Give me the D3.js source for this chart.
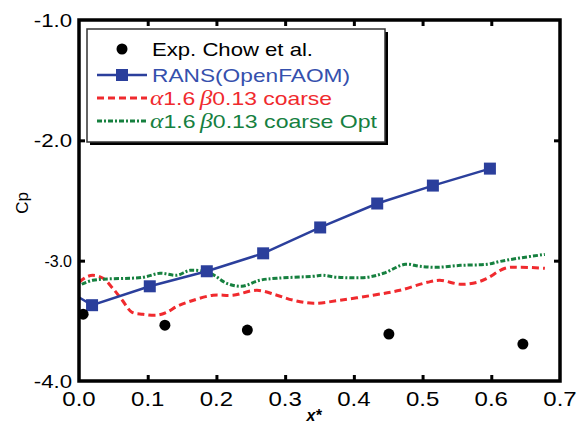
<!DOCTYPE html>
<html><head><meta charset="utf-8">
<script src="https://cdn.jsdelivr.net/npm/d3@7"></script>
<style>html,body{margin:0;padding:0;background:#fff;}</style>
</head><body>
<script>
// ---- data ----
const expX = [0.006, 0.125, 0.245, 0.451, 0.646];
const expY = [-3.445, -3.536, -3.577, -3.610, -3.693];

const ransX = [-0.025, 0.019, 0.103, 0.186, 0.268, 0.351, 0.434, 0.515, 0.598];
const ransY = [-3.22, -3.37, -3.213, -3.088, -2.939, -2.724, -2.525, -2.376, -2.235];

const coarseX = [0.000, 0.010, 0.020, 0.035, 0.049, 0.063, 0.077, 0.093, 0.114, 0.128, 0.143, 0.162, 0.195, 0.224, 0.259, 0.288, 0.312, 0.341, 0.380, 0.428, 0.467, 0.507, 0.525, 0.555, 0.579, 0.594, 0.620, 0.642, 0.678];
const coarseY = [-3.180, -3.138, -3.122, -3.146, -3.229, -3.329, -3.428, -3.445, -3.453, -3.428, -3.378, -3.337, -3.287, -3.287, -3.246, -3.287, -3.329, -3.354, -3.329, -3.287, -3.246, -3.180, -3.163, -3.196, -3.180, -3.146, -3.063, -3.055, -3.063];

const optX = [0.004, 0.020, 0.093, 0.118, 0.143, 0.162, 0.191, 0.215, 0.237, 0.263, 0.288, 0.341, 0.355, 0.376, 0.419, 0.443, 0.475, 0.496, 0.521, 0.555, 0.594, 0.613, 0.638, 0.678];
const optY = [-3.196, -3.163, -3.138, -3.105, -3.121, -3.080, -3.105, -3.188, -3.213, -3.163, -3.146, -3.130, -3.122, -3.138, -3.138, -3.105, -3.030, -3.047, -3.055, -3.039, -3.030, -3.006, -2.981, -2.948];

const xTicks = [0, 0.1, 0.2, 0.3, 0.4, 0.5, 0.6, 0.7];
const xTickLabels = ["0.0", "0.1", "0.2", "0.3", "0.4", "0.5", "0.6", "0.7"];
const yTicks = [-1, -2, -3, -4];
const yTickLabels = ["-1.0", "-2.0", "-3.0", "-4.0"];

const legendLabels = ["Exp. Chow et al.", "RANS(OpenFAOM)", "coarse", "coarse Opt"];

const BLUE = "#2b3f9c", RED = "#f02a2e", GREEN = "#16803f";

// ---- chart ----
const W = 577, H = 427;
const svg = d3.select("body").append("svg").attr("width", W).attr("height", H);
const x = d3.scaleLinear().domain([0, 0.7]).range([79, 560]);
const y = d3.scaleLinear().domain([-4, -1]).range([381, 20]);

svg.append("defs").append("clipPath").attr("id", "plotclip")
  .append("rect").attr("x", x(0)).attr("y", y(-1)).attr("width", x(0.7) - x(0)).attr("height", y(-4) - y(-1));

const plot = svg.append("g").attr("clip-path", "url(#plotclip)");

const lineGen = (xs, ys) => d3.line().curve(d3.curveCatmullRom.alpha(0.5))
  .x((d, i) => x(xs[i])).y((d, i) => y(ys[i]))(xs);

plot.append("path").attr("d", lineGen(coarseX, coarseY)).attr("fill", "none")
  .attr("stroke", RED).attr("stroke-width", 3).attr("stroke-dasharray", "7,4");
plot.append("path").attr("d", lineGen(optX, optY)).attr("fill", "none")
  .attr("stroke", GREEN).attr("stroke-width", 3).attr("stroke-dasharray", "5,2,2,2");

plot.append("path").attr("d", d3.line().x((d, i) => x(ransX[i])).y((d, i) => y(ransY[i]))(ransX))
  .attr("fill", "none").attr("stroke", BLUE).attr("stroke-width", 2.5);
plot.selectAll("rect.sq").data(ransX).join("rect").attr("class", "sq")
  .attr("x", (d, i) => x(d) - 6).attr("y", (d, i) => y(ransY[i]) - 6)
  .attr("width", 12).attr("height", 12).attr("fill", BLUE);

plot.selectAll("circle.exp").data(expX).join("circle").attr("class", "exp")
  .attr("cx", d => x(d)).attr("cy", (d, i) => y(expY[i])).attr("r", 5.5).attr("fill", "#000");

// axes ticks (inward)
const tickIn = [0.1, 0.2, 0.3, 0.4, 0.5, 0.6];
const yIn = [-2, -3];
const axStyle = g => { g.select(".domain").remove(); g.selectAll("line").attr("stroke", "#000").attr("stroke-width", 3); g.selectAll("text").remove(); };
svg.append("g").attr("transform", `translate(0,${y(-4)})`).call(d3.axisBottom(x).tickValues(tickIn).tickSize(-6)).call(axStyle);
svg.append("g").attr("transform", `translate(0,${y(-1)})`).call(d3.axisTop(x).tickValues(tickIn).tickSize(-6)).call(axStyle);
svg.append("g").attr("transform", `translate(${x(0)},0)`).call(d3.axisLeft(y).tickValues(yIn).tickSize(-6)).call(axStyle);
svg.append("g").attr("transform", `translate(${x(0.7)},0)`).call(d3.axisRight(y).tickValues(yIn).tickSize(-6)).call(axStyle);

// frame
svg.append("rect").attr("x", x(0)).attr("y", y(-1)).attr("width", x(0.7) - x(0)).attr("height", y(-4) - y(-1))
  .attr("fill", "none").attr("stroke", "#000").attr("stroke-width", 3.5);

const FONT = "Liberation Sans, Arial, Helvetica, sans-serif";
function stretchText(px, py, str, size, sx, anchor) {
  return svg.append("g").attr("transform", `translate(${px},${py}) scale(${sx},1)`)
    .append("text").attr("x", 0).attr("y", 0).attr("font-family", FONT).attr("font-size", size)
    .attr("text-anchor", anchor).attr("fill", "#000").text(str);
}

xTicks.forEach((t, i) => stretchText(x(t), 406, xTickLabels[i], 20, 1.2, "middle"));
yTicks.forEach((t, i) => {
  if (t === -3) stretchText(72, y(t) + 6, yTickLabels[i], 16, 1.0, "end");
  else stretchText(72, y(t) + 6.5, yTickLabels[i], 19, 1.17, "end");
});

// axis titles
svg.append("text").attr("transform", `translate(28,203) rotate(-90)`).attr("text-anchor", "middle")
  .attr("font-family", FONT).attr("font-size", 17).text("Cp");
svg.append("text").attr("x", 314).attr("y", 421).attr("text-anchor", "middle")
  .attr("font-family", FONT).attr("font-size", 16).attr("font-style", "italic").attr("font-weight", "bold").text("x*");

// legend
const lg = svg.append("g");
lg.append("rect").attr("x", 90).attr("y", 32).attr("width", 298).attr("height", 113).attr("fill", "#000");
lg.append("rect").attr("x", 87).attr("y", 29).attr("width", 298).attr("height", 113).attr("fill", "#fff")
  .attr("stroke", "#333").attr("stroke-width", 1.5);

const rowY = [49, 75, 98, 121];
lg.append("circle").attr("cx", 122).attr("cy", rowY[0]).attr("r", 5.5).attr("fill", "#000");
lg.append("line").attr("x1", 97).attr("x2", 147).attr("y1", rowY[1]).attr("y2", rowY[1]).attr("stroke", BLUE).attr("stroke-width", 2.5);
lg.append("rect").attr("x", 116).attr("y", rowY[1] - 6).attr("width", 12).attr("height", 12).attr("fill", BLUE);
lg.append("line").attr("x1", 97).attr("x2", 147).attr("y1", rowY[2]).attr("y2", rowY[2]).attr("stroke", RED).attr("stroke-width", 3).attr("stroke-dasharray", "7,4");
lg.append("line").attr("x1", 97).attr("x2", 147).attr("y1", rowY[3]).attr("y2", rowY[3]).attr("stroke", GREEN).attr("stroke-width", 3).attr("stroke-dasharray", "5,2,2,2");

function legText(row, x0, len, color, parts) {
  const t = lg.append("text").attr("x", x0).attr("y", rowY[row] + 7).attr("font-family", FONT)
    .attr("font-size", 19).attr("fill", color).attr("textLength", len).attr("lengthAdjust", "spacingAndGlyphs");
  parts.forEach(p => {
    const s = t.append("tspan").text(p.t);
    if (p.greek) s.attr("font-family", "Liberation Serif, DejaVu Serif, serif").attr("font-style", "italic").attr("font-size", 21);
  });
}
legText(0, 152, 161, "#000", [{t: legendLabels[0]}]);
legText(1, 152, 198, "#3550ad", [{t: legendLabels[1]}]);
legText(2, 150, 182, RED, [{t: "α", greek: true}, {t: "1.6\u2009"}, {t: "β", greek: true}, {t: "0.13 " + legendLabels[2]}]);
legText(3, 150, 227, GREEN, [{t: "α", greek: true}, {t: "1.6\u2009"}, {t: "β", greek: true}, {t: "0.13 " + legendLabels[3]}]);
</script>
</body></html>
